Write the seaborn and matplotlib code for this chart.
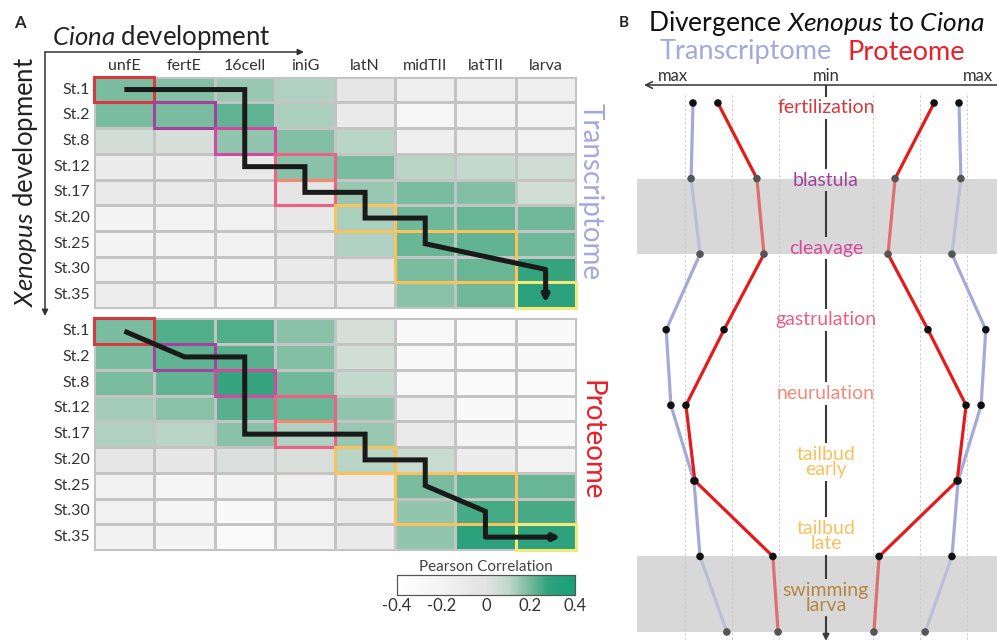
import numpy as np
import pandas as pd
import matplotlib
matplotlib.use('Agg')
import matplotlib.pyplot as plt
import seaborn as sns
from matplotlib.colors import LinearSegmentedColormap
from matplotlib.patches import Rectangle, FancyArrowPatch

sns.set_theme(style='white')
plt.rcParams['font.family'] = ['Lato', 'DejaVu Sans']
plt.rcParams['mathtext.fontset'] = 'custom'
plt.rcParams['mathtext.rm'] = 'Lato'
plt.rcParams['mathtext.it'] = 'Lato:italic'

# ---- panel A data ----
ciona_stages = ['unfE', 'fertE', '16cell', 'iniG', 'latN', 'midTII', 'latTII', 'larva']
xenopus_stages = ['St.1', 'St.2', 'St.8', 'St.12', 'St.17', 'St.20', 'St.25', 'St.30', 'St.35']

transcriptome_corr = [
    [0.19, 0.18, 0.15, 0.12, -0.05, -0.15, -0.15, -0.15],
    [0.19, 0.19, 0.22, 0.13, -0.10, -0.25, -0.20, -0.20],
    [0.05, 0.04, 0.16, 0.18, 0.11, -0.15, -0.15, -0.17],
    [-0.12, -0.12, -0.07, 0.17, 0.19, 0.11, 0.09, 0.06],
    [-0.10, -0.10, -0.10, -0.04, 0.15, 0.19, 0.18, 0.05],
    [-0.22, -0.20, -0.18, -0.07, 0.13, 0.20, 0.21, 0.20],
    [-0.22, -0.20, -0.18, -0.08, 0.12, 0.21, 0.22, 0.20],
    [-0.18, -0.20, -0.20, -0.10, -0.06, 0.19, 0.21, 0.27],
    [-0.13, -0.15, -0.20, -0.10, -0.10, 0.17, 0.20, 0.30],
]
proteome_corr = [
    [0.19, 0.24, 0.24, 0.17, 0.04, -0.28, -0.32, -0.30],
    [0.19, 0.22, 0.23, 0.18, 0.05, -0.28, -0.32, -0.30],
    [0.19, 0.22, 0.27, 0.20, 0.09, -0.28, -0.32, -0.32],
    [0.14, 0.17, 0.23, 0.21, 0.16, -0.15, -0.30, -0.30],
    [0.12, 0.11, 0.17, 0.12, 0.15, -0.10, -0.22, -0.28],
    [-0.05, -0.06, 0.02, 0.03, 0.11, 0.08, -0.12, -0.20],
    [-0.18, -0.23, -0.22, -0.15, -0.10, 0.19, 0.22, 0.21],
    [-0.18, -0.23, -0.30, -0.17, -0.10, 0.16, 0.25, 0.25],
    [-0.18, -0.22, -0.32, -0.17, -0.10, 0.16, 0.30, 0.29],
]

# stage boxes: first row, last row, first col, last col, colour
stage_boxes = [
    (4, 4, 3, 3, '#f4876e'),
    (5, 5, 4, 4, '#f4876e'),
    (0, 0, 0, 0, '#d63a3c'),
    (1, 1, 1, 1, '#a2439d'),
    (2, 2, 2, 2, '#d04aa0'),
    (3, 4, 3, 3, '#ea6384'),
    (5, 5, 4, 4, '#f8c25c'),
    (6, 7, 5, 6, '#f8c25c'),
    (8, 8, 7, 7, '#f3e97a'),
]

# best-match trajectories (row, col); last point is the arrow tip
traj_transcriptome = [(0, 0), (0, 2), (3, 2), (3, 3), (4, 3), (4, 4), (5, 4),
                      (5, 5), (6, 5), (7, 7), (8.3, 7)]
traj_proteome = [(0, 0), (1, 1), (1, 2), (4, 2), (4, 4), (5, 4), (5, 5),
                 (6, 5), (7, 6), (8, 6), (8, 7.25)]

# ---- panel B data ----
stage_names = ['fertilization', 'blastula', 'cleavage', 'gastrulation', 'neurulation',
               'tailbud\nearly', 'tailbud\nlate', 'swimming\nlarva']
stage_colors = ['#d9393b', '#a1429b', '#d54a9d', '#ea6182', '#f48a78',
                '#f7c160', '#f7c160', '#b58541']
label_pos = [0.066, 1.02, 1.92, 2.87, 3.84, 4.75, 5.73, 6.55]
div_transcriptome = [2.83, 2.87, 2.68, 3.40, 3.30, 2.81, 2.68, 2.11]
div_proteome = [2.30, 1.47, 1.32, 2.17, 2.98, 2.79, 1.13, 1.02]
bands = [(1, 2), (6, 7)]

W, H = 997, 644


def fp(x, y):
    return x / W, 1 - y / H


cmap = LinearSegmentedColormap.from_list('pc', [
    (0.0, '#ffffff'), (0.25, '#f3f3f3'), (0.5, '#e2e2e2'), (0.625, '#c2d9cc'),
    (0.75, '#72b99b'), (0.85, '#2fa27c'), (1.0, '#17a077')])

fig = plt.figure(figsize=(W / 100, H / 100), dpi=100)

ax_t = fig.add_axes([94.3 / W, 1 - 308 / H, 481.4 / W, 231.3 / H])
ax_p = fig.add_axes([94.3 / W, 1 - 550 / H, 481.4 / W, 231.7 / H])
cax = fig.add_axes([397 / W, 1 - 595 / H, 178 / W, 20 / H])

df_t = pd.DataFrame(transcriptome_corr, index=xenopus_stages, columns=ciona_stages)
df_p = pd.DataFrame(proteome_corr, index=xenopus_stages, columns=ciona_stages)

sns.heatmap(df_t, ax=ax_t, cmap=cmap, vmin=-0.4, vmax=0.4, linewidths=0.8,
            linecolor='#c4c4c4', cbar=False)
sns.heatmap(df_p, ax=ax_p, cmap=cmap, vmin=-0.4, vmax=0.4, linewidths=0.8,
            linecolor='#c4c4c4', cbar=True, cbar_ax=cax,
            cbar_kws={'orientation': 'horizontal', 'ticks': [-0.4, -0.2, 0, 0.2, 0.4]})

for ax, traj in ((ax_t, traj_transcriptome), (ax_p, traj_proteome)):
    ax.set_xlabel('')
    ax.set_ylabel('')
    ax.tick_params(length=0, labelsize=11.5, colors='#333333', pad=3)
    ax.set_yticklabels(xenopus_stages, rotation=0)
    for s in ax.spines.values():
        s.set_visible(True)
        s.set_color('#c4c4c4')
        s.set_linewidth(0.8)
    for r0, r1, c0, c1, col in stage_boxes:
        ax.add_patch(Rectangle((c0, r0), c1 - c0 + 1, r1 - r0 + 1, fill=False,
                               ec=col, lw=2.2, zorder=3, clip_on=False))
    xs = [c + 0.5 for r, c in traj]
    ys = [r + 0.5 for r, c in traj]
    ax.plot(xs[:-1], ys[:-1], color='#1a1a1a', lw=3.6, zorder=4,
            solid_joinstyle='miter', solid_capstyle='butt')
    ax.annotate('', xy=(xs[-1], ys[-1]), xytext=(xs[-2], ys[-2]), zorder=4,
                arrowprops=dict(arrowstyle='-|>', color='#1a1a1a', lw=3.6,
                                mutation_scale=9, shrinkA=0, shrinkB=0))

ax_t.xaxis.tick_top()
ax_t.set_xticklabels(ciona_stages, rotation=0)
ax_p.set_xticks([])

cax.tick_params(length=0, labelsize=12, colors='#333333', pad=2)
cax.set_xticklabels(['-0.4', '-0.2', '0', '0.2', '0.4'])
cax.set_title('Pearson Correlation', fontsize=11, color='#444444', pad=3)
for s in cax.spines.values():
    s.set_visible(True)
    s.set_color('#555555')
    s.set_linewidth(0.8)

# panel A decorations
fig.text(*fp(20, 23), 'A', fontsize=12, fontweight='bold', ha='center', va='center')
fig.text(*fp(52, 37), '$\\mathit{Ciona}$ development', fontsize=18.5, ha='left',
         va='center', color='#222222')
fig.text(*fp(25, 182), '$\\mathit{Xenopus}$ development', fontsize=18.5, ha='center',
         va='center', rotation=90, color='#222222')
fig.add_artist(FancyArrowPatch(
    fp(45, 52), fp(304, 52), transform=fig.transFigure, arrowstyle='-|>',
    mutation_scale=9, color='#333333', lw=1.1, shrinkA=0, shrinkB=0))
fig.add_artist(FancyArrowPatch(
    fp(45, 52), fp(45, 316), transform=fig.transFigure, arrowstyle='-|>',
    mutation_scale=9, color='#333333', lw=1.1, shrinkA=0, shrinkB=0))
fig.text(*fp(591, 192), 'Transcriptome', fontsize=20, color='#a3a9dd', rotation=270,
         ha='center', va='center')
fig.text(*fp(591, 440), 'Proteome', fontsize=20, color='#e8202a', rotation=270,
         ha='center', va='center')

# ---- panel B ----
ax_b = fig.add_axes([637 / W, 0, 360 / W, 564 / H])
y_axis = (85 - 103) / 75.57
y_tip = (641 - 103) / 75.57
ax_b.set_xlim((637 - 826) / 47, (997 - 826) / 47)
ax_b.set_ylim((644 - 103) / 75.57, (80 - 103) / 75.57)
ax_b.axis('off')

for a, b in bands:
    ax_b.axhspan(a, b, color='#d8d8d8', lw=0, zorder=0)
ax_b.vlines([-3, -2, -1, 1, 2, 3], -0.1, 7.1, color='#cccccc', lw=0.8,
            linestyles=(0, (2, 2)), zorder=1)

for side in (-1, 1):
    for vals, col in ((div_transcriptome, '#a4aad8'), (div_proteome, '#e41a1c')):
        xs = [side * v for v in vals]
        for i in range(len(xs) - 1):
            in_band = (i, i + 1) in bands
            ax_b.plot(xs[i:i + 2], [i, i + 1], color=col, lw=2.3,
                      alpha=0.55 if in_band else 1, zorder=2, solid_capstyle='round')
        dot_cols = ['#555555' if i in (1, 2, 7) else '#111111' for i in range(len(xs))]
        ax_b.scatter(xs, range(len(xs)), s=30, c=dot_cols, zorder=3, lw=0)

# central axis, interrupted by the stage labels
gaps = [(yp - (0.15 if '\n' not in n else 0.25), yp + (0.15 if '\n' not in n else 0.25))
        for n, yp in zip(stage_names, label_pos)]
start = y_axis
for g0, g1 in gaps:
    ax_b.plot([0, 0], [start, g0], color='#3a3a3a', lw=1.5, zorder=3,
              solid_capstyle='butt')
    start = g1
ax_b.annotate('', xy=(0, y_tip), xytext=(0, start), zorder=3,
              arrowprops=dict(arrowstyle='-|>', color='#3a3a3a', lw=1.5,
                              mutation_scale=9, shrinkA=0, shrinkB=0))
ax_b.annotate('', xy=(-3.87, y_axis), xytext=(3.8, y_axis), annotation_clip=False,
              arrowprops=dict(arrowstyle='->', color='#333333', lw=1.1,
                              mutation_scale=12, shrinkA=0, shrinkB=0))

for name, col, yp in zip(stage_names, stage_colors, label_pos):
    ax_b.text(0, yp, name, color=col, fontsize=14, ha='center', va='center',
              linespacing=0.8, zorder=5)

fig.text(*fp(673, 76), 'max', fontsize=12, ha='center', va='center', color='#333333')
fig.text(*fp(826, 76), 'min', fontsize=12, ha='center', va='center', color='#333333')
fig.text(*fp(978, 76), 'max', fontsize=12, ha='center', va='center', color='#333333')

fig.text(*fp(624, 23), 'B', fontsize=11, fontweight='bold', ha='center', va='center')
fig.text(*fp(648, 23), 'Divergence $\\mathit{Xenopus}$ to $\\mathit{Ciona}$', fontsize=19,
         ha='left', va='center', color='#111111')
fig.text(*fp(832, 52), 'Transcriptome', fontsize=19.5, color='#a3a9dd', ha='right', va='center')
fig.text(*fp(847, 52), 'Proteome', fontsize=19.5, color='#e8202a', ha='left', va='center')

fig.savefig('out.png', dpi=100)
